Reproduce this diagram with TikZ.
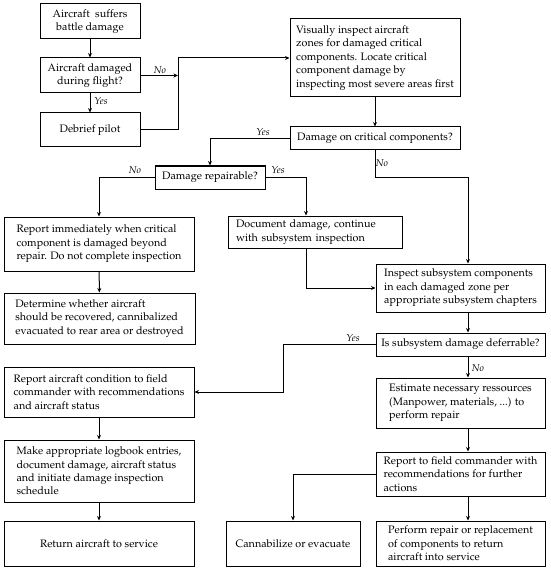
\documentclass[tikz,border=0pt]{standalone}
\usepackage[T1]{fontenc}
\usepackage{mathpazo}
\usetikzlibrary{arrows.meta, calc}

\begin{document}
\begin{tikzpicture}[x=1pt, y=-1pt,
        box/.style={
            draw,
            line width=1pt,
            inner sep=2pt,
            font=\fontsize{10.8}{13.4}\selectfont},
        cbox/.style={box, align=center},
        lbox/.style={box, align=left},
        lbl/.style={font=\fontsize{10}{11}\selectfont\itshape, inner sep=1pt},
        line/.style={line width=1pt},
        >={Stealth[length=4.5pt, width=4pt]}]

        \useasboundingbox (0,0) rectangle (550,572);

        % left top column
        \node[cbox, minimum width=100pt, minimum height=35pt](suffer) at (90,21.5) {Aircraft\ \ suffers\\battle damage};
        \node[cbox, minimum width=100pt, minimum height=35pt](flight) at (90,75.5) {Aircraft damaged\\during flight?};
        \node[cbox, minimum width=100pt, minimum height=34pt](debrief) at (90,130) {Debrief pilot};

        % critical components
        \node[lbox, minimum width=170pt, minimum height=78pt](visual) at (375,58) {Visually inspect aircraft\\zones for damaged critical\\components. Locate critical\\component damage by\\inspecting most severe areas first};
        \node[cbox, minimum width=170pt, minimum height=23pt](critical) at (375,138.5) {Damage on critical components?};
        \node[cbox, minimum width=110pt, minimum height=23pt](repairable) at (210,177.5) {Damage repairable?};
        \node[lbox, minimum width=190pt, minimum height=54pt](beyond) at (99,244) {Report immediately when critical\\component is damaged beyond\\repair. Do not complete inspection};
        \node[lbox, minimum width=191pt, minimum height=51pt](determine) at (99.5,318.5) {Determine whether aircraft\\should be recovered, cannibalized\\evacuated to rear area or destroyed};
        \node[lbox, minimum width=174pt, minimum height=32pt, text width=158pt](document) at (315,232) {Document damage, continue\\with subsystem inspection};

        % subsystems
        \node[lbox, minimum width=169pt, minimum height=48pt](subsys) at (460.5,288) {Inspect subsystem components\\in each damaged zone per\\appropriate subsystem chapters};
        \node[cbox, minimum width=169pt, minimum height=23pt](defer) at (460.5,344.5) {Is subsystem damage deferrable?};
        \node[lbox, minimum width=169pt, minimum height=50pt](estimate) at (460.5,403) {Estimate necessary ressources\\(Manpower, materials, ...) to\\perform repair};
        \node[lbox, minimum width=169pt, minimum height=44pt](field) at (460.5,474) {Report to field commander with\\recommendations for further\\actions};
        \node[lbox, minimum width=169pt, minimum height=45pt](perform) at (460.5,543.5) {Perform repair or replacement\\of components to return\\aircraft into service};
        \node[cbox, minimum width=134pt, minimum height=45pt](cannib) at (293,543.5) {Cannabilize or evacuate};

        % left bottom column
        \node[lbox, minimum width=190pt, minimum height=50pt](condition) at (99,392) {Report aircraft condition to field\\commander with recommendations\\and aircraft status};
        \node[lbox, minimum width=190pt, minimum height=62pt](logbook) at (99,471) {Make appropriate logbook entries,\\document damage, aircraft status\\and initiate damage inspection\\schedule};
        \node[cbox, minimum width=190pt, minimum height=45pt](service) at (99,543.5) {Return aircraft to service};

        % columns of the connectors
        \coordinate (jcol) at (178,0);
        \coordinate (dcol) at (306,0);
        \coordinate (ycol) at (283,0);
        \coordinate (rcol) at (468,0);

        \draw[line, ->] (suffer) -- (flight);
        \draw[line, ->] (flight) -- (debrief);
        \draw[line, ->] (flight.east) -- (flight.east -| jcol);
        \draw[line, ->] (debrief.east) -| (jcol |- visual.west) -- (visual.west);
        \draw[line, ->] (visual) -- (critical);
        \draw[line, ->] (critical.west) -| (repairable.north);
        \draw[line, ->] (critical.south) |- (rcol |- 0,177) -- (subsys.north -| rcol);
        \draw[line, ->] (repairable.west) -| (beyond.north);
        \draw[line, ->] (repairable.east) -| (document.north -| dcol);
        \draw[line, ->] (beyond) -- (determine);
        \draw[line, ->] (document.south -| dcol) |- (subsys.west);
        \draw[line, ->] (subsys.south -| rcol) -- (defer.north -| rcol);
        \draw[line, ->] (defer.west) -- (defer.west -| ycol) |- (condition.east);
        \draw[line, ->] (defer.south -| rcol) -- (estimate.north -| rcol);
        \draw[line, ->] (estimate.south -| rcol) -- (field.north -| rcol);
        \draw[line, ->] (field.south -| rcol) -- (perform.north -| rcol);
        \draw[line, ->] (field.west) -| (cannib.north);
        \draw[line, ->] (condition) -- (logbook);
        \draw[line, ->] (logbook) -- (service);

        % yes / no
        \node[lbl](noflight) at (160,70) {No};
        \node[lbl](yesflight) at (101,101) {Yes};
        \node[lbl](yescrit) at (263,132) {Yes};
        \node[lbl](nocrit) at (382,163) {No};
        \node[lbl](norep) at (135,170) {No};
        \node[lbl](yesrep) at (278,170) {Yes};
        \node[lbl](yesdefer) at (353,338) {Yes};
        \node[lbl](nodefer) at (478,368) {No};
    \end{tikzpicture}
\end{document}
